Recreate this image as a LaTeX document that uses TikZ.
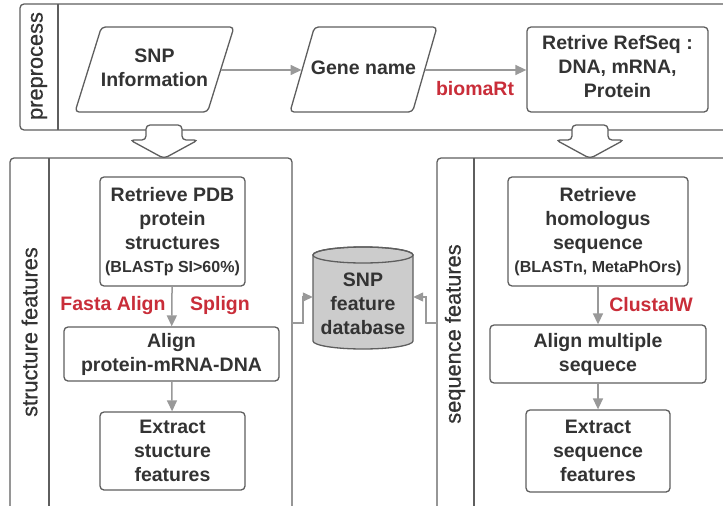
\documentclass[tikz,border=0pt]{standalone}
\usepackage{fontspec}
\setmainfont{Liberation Sans}
\newfontfamily\lanefont{Liberation Sans}[FakeBold=0.6]
\usetikzlibrary{shapes.geometric,arrows.meta}
\definecolor{txt}{HTML}{333333}
\definecolor{bord}{HTML}{5E5E5E}
\definecolor{arr}{HTML}{999999}
\definecolor{lab}{HTML}{C92D39}
\definecolor{dbfill}{HTML}{CCCCCC}
\tikzset{
  every node/.style={text=txt, font=\bfseries\fontsize{19.5}{24}\selectfont, align=center},
  lane/.style={draw=bord, line width=1.3pt, rounded corners=4pt},
  lanetitle/.style={font=\lanefont\fontsize{21.8}{24}\selectfont, rotate=90},
  box/.style={draw=bord, line width=1.3pt, rounded corners=4pt, inner sep=0pt, fill=white},
  para/.style={draw=bord, line width=1.3pt, rounded corners=4pt, trapezium, trapezium left angle=76,
     trapezium right angle=104, trapezium stretches=true, inner sep=2pt, minimum height=85pt},
  flow/.style={draw=arr, line width=1.5pt, -{Triangle[length=11pt,width=10pt]}},
  redlab/.style={text=lab},
  blockarrow/.style={draw=bord, line width=1.3pt, fill=white, rounded corners=4pt},
}
\begin{document}
\begin{tikzpicture}[x=1pt,y=-1pt]
\clip (0,0) rectangle (723,506);
\fill[white] (0,0) rectangle (723,506);
% lanes
\draw[lane] (20,4) rectangle (740,130);
\draw[bord, line width=1.3pt] (58,4) -- (58,130);
\node[lanetitle] (tpre) at (39,66) {preprocess};

\draw[lane] (10,158) rectangle (292,530);
\draw[bord, line width=1.3pt] (49,158) -- (49,530);
\node[lanetitle] (tstr) at (29.5,332) {structure features};

\draw[lane] (437,158) rectangle (740,530);
\draw[bord, line width=1.3pt] (474,158) -- (474,530);
\node[lanetitle] (tseq) at (455,334) {sequence features};

% block arrows
\draw[blockarrow] (146,125) -- (182,125) -- (182,140) -- (198,140) -- (164,158.5) -- (130,140) -- (146,140) -- cycle;
\draw[blockarrow] (572,125) -- (608,125) -- (608,140) -- (624,140) -- (590,158.5) -- (556,140) -- (572,140) -- cycle;

% preprocess nodes
\node[para, minimum width=159pt] (snp) at (154.5,69.5) {};
\node (snptext) at (154.5,68) {SNP\\Information};
\node[para, minimum width=147pt] (gene) at (363.5,69.5) {};
\node (genetext) at (363.5,68) {Gene name};
\node[box, minimum width=181pt, minimum height=85pt] (ref) at (617.5,69.5) {};
\node (reftext) at (617.5,67) {Retrive RefSeq :\\DNA, mRNA,\\Protein};
\draw[flow] (snp.east |- 0,70) -- (gene.west |- 0,70);
\draw[flow] (gene.east |- 0,70) -- (ref.west |- 0,70);
\node[redlab] (biomart) at (475,89) {biomaRt};

% structure
\node[box, minimum width=145pt, minimum height=109pt] (pdb) at (172.5,231.5) {Retrieve PDB\\protein\\structures\\[-1pt]{\fontsize{16}{20}\selectfont (BLASTp SI>60\%)}};
\node[box, minimum width=215pt, minimum height=54pt] (align) at (171.5,354) {Align\\protein-mRNA-DNA};
\node[box, minimum width=145pt, minimum height=78pt] (exs) at (172.5,451) {Extract\\stucture\\features};
\draw[flow] (pdb) -- (align);
\draw[flow] (align) -- (exs);
\node[redlab] (fasta) at (113,305) {Fasta Align};
\node[redlab] (splign) at (220,305) {Splign};

% sequence
\node[box, minimum width=180pt, minimum height=109pt] (hom) at (598,231.5) {Retrieve\\homologus\\sequence\\[-1pt]{\fontsize{16}{20}\selectfont (BLASTn, MetaPhOrs)}};
\node[box, minimum width=216pt, minimum height=58pt] (msa) at (598,354) {Align multiple\\sequece};
\node[box, minimum width=144pt, minimum height=82pt] (exq) at (598,451) {Extract\\sequence\\features};
\draw[flow] (hom) -- (msa);
\draw[flow] (msa) -- (exq);
\node[redlab] (clustal) at (651,305) {ClustalW};

% database (cylinder)
\draw[draw=bord, line width=1.3pt, fill=dbfill] (313,255) -- (313,341)
   arc[start angle=180, end angle=0, x radius=50, y radius=8] -- (413,255)
   arc[start angle=0, end angle=-180, x radius=50, y radius=8] -- cycle;
\draw[draw=bord, line width=1.3pt] (363,255) ellipse [x radius=50, y radius=8];
\node[minimum width=100pt, minimum height=102pt, inner sep=0pt] (db) at (363,298) {};
\node (dbtext) at (363,304) {SNP\\feature\\database};
\coordinate (ls) at (292,323);
\coordinate (rs) at (437,323);
\draw[draw=arr, line width=1.3pt, -{Triangle[length=10pt,width=9pt]}] (ls) -- (303,323) -- (303,297) -- (db.west |- 0,297);
\draw[draw=arr, line width=1.3pt, -{Triangle[length=10pt,width=9pt]}] (rs) -- (426,323) -- (426,297) -- (db.east |- 0,297);
\end{tikzpicture}
\end{document}
